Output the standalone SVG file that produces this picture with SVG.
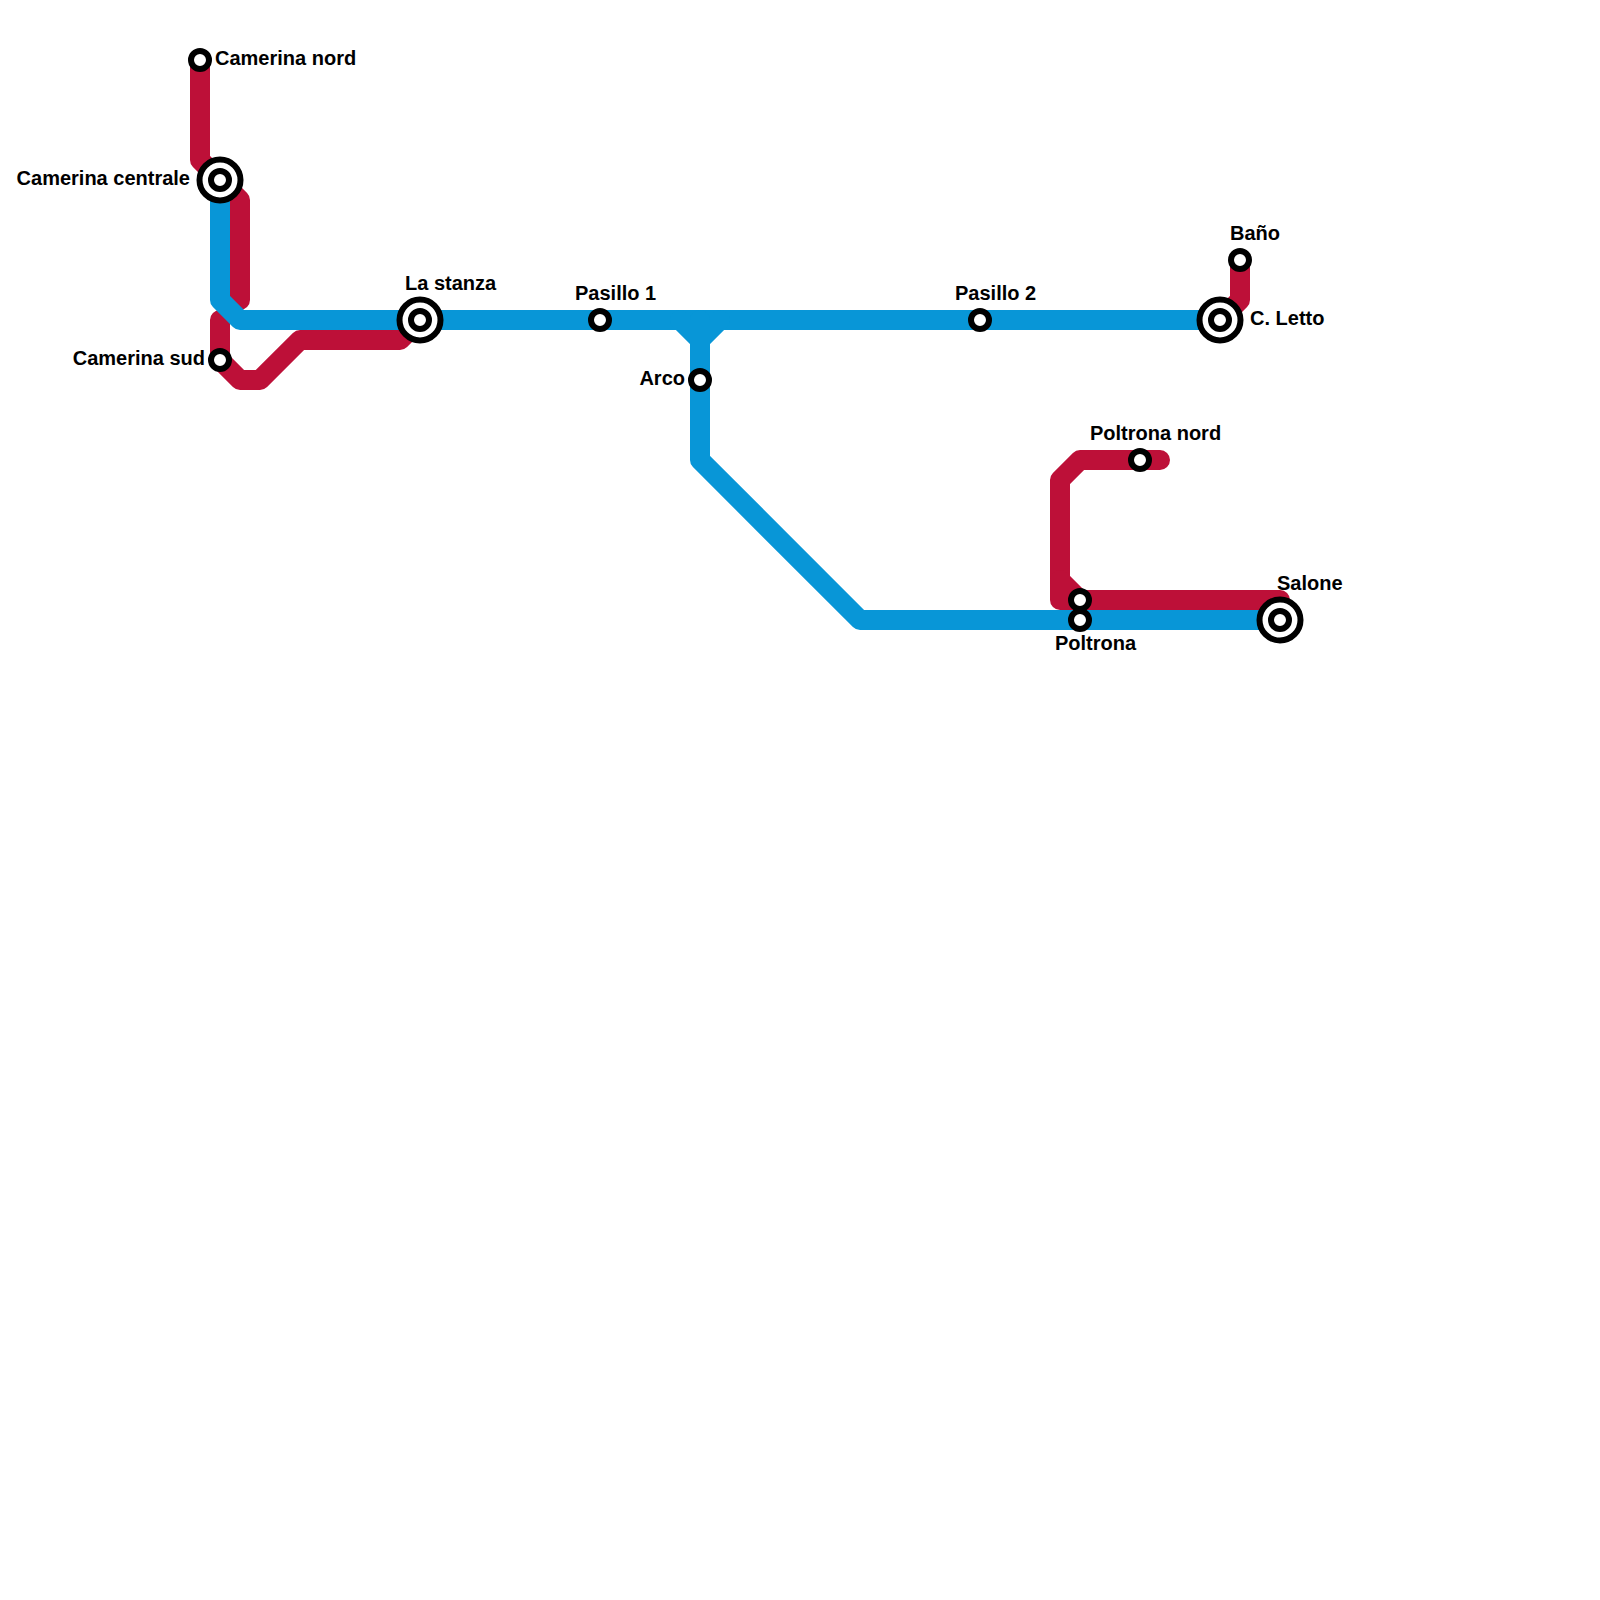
<svg xmlns="http://www.w3.org/2000/svg" width="1600" height="1600" viewBox="0 0 1600 1600">
<style>
.red{fill:none;stroke:#bd1038;stroke-width:20;stroke-linecap:round;stroke-linejoin:round}
.blue{fill:none;stroke:#0896d7;stroke-width:20;stroke-linecap:round;stroke-linejoin:round}
.st{fill:#fff;stroke:#000;stroke-width:6}
text{font-family:"Liberation Sans",Arial,sans-serif;font-weight:700;font-size:20px;fill:#000}
.e{text-anchor:end}
</style>
<rect width="1600" height="1600" fill="#fff"/>
<g id="connectors">
<path class="red" d="M200 60V160L220 180L240 200V300"/>
<path class="red" d="M220 320V360L240 380H260L300 340H400L420 320"/>
<path class="red" d="M1240 260V300L1220 320"/>
<path class="red" d="M1160 460H1080L1060 480V600H1280"/>
<path class="red" d="M1060 580L1080 600"/>
<path class="blue" d="M220 180V300L240 320H1220"/>
<path class="blue" d="M680 320L700 340L720 320"/>
<path class="blue" d="M700 320V460L860 620H1280"/>
</g>
<g id="camerina-nord"><circle class="st" cx="200" cy="60" r="9"/><text x="215" y="65">Camerina nord</text></g>
<g id="camerina-centrale"><circle class="st" cx="220" cy="180" r="20.5"/><circle class="st" cx="220" cy="180" r="9"/><text class="e" x="190" y="185">Camerina centrale</text></g>
<g id="camerina-sud"><circle class="st" cx="220" cy="360" r="9"/><text class="e" x="205" y="365">Camerina sud</text></g>
<g id="la-stanza"><circle class="st" cx="420" cy="320" r="20.5"/><circle class="st" cx="420" cy="320" r="9"/><text x="405" y="290">La stanza</text></g>
<g id="pasillo-1"><circle class="st" cx="600" cy="320" r="9"/><text x="575" y="300">Pasillo 1</text></g>
<g id="arco"><circle class="st" cx="700" cy="380" r="9"/><text class="e" x="685" y="385">Arco</text></g>
<g id="pasillo-2"><circle class="st" cx="980" cy="320" r="9"/><text x="955" y="300">Pasillo 2</text></g>
<g id="c-letto"><circle class="st" cx="1220" cy="320" r="20.5"/><circle class="st" cx="1220" cy="320" r="9"/><text x="1250" y="325">C. Letto</text></g>
<g id="bano"><circle class="st" cx="1240" cy="260" r="9"/><text x="1230" y="240">Baño</text></g>
<g id="poltrona-nord"><circle class="st" cx="1140" cy="460" r="9"/><text x="1090" y="440">Poltrona nord</text></g>
<g id="poltrona"><circle class="st" cx="1080" cy="600" r="9"/><circle class="st" cx="1080" cy="620" r="9"/><text x="1055" y="650">Poltrona</text></g>
<g id="salone"><circle class="st" cx="1280" cy="620" r="20.5"/><circle class="st" cx="1280" cy="620" r="9"/><text x="1277" y="590">Salone</text></g>
</svg>
